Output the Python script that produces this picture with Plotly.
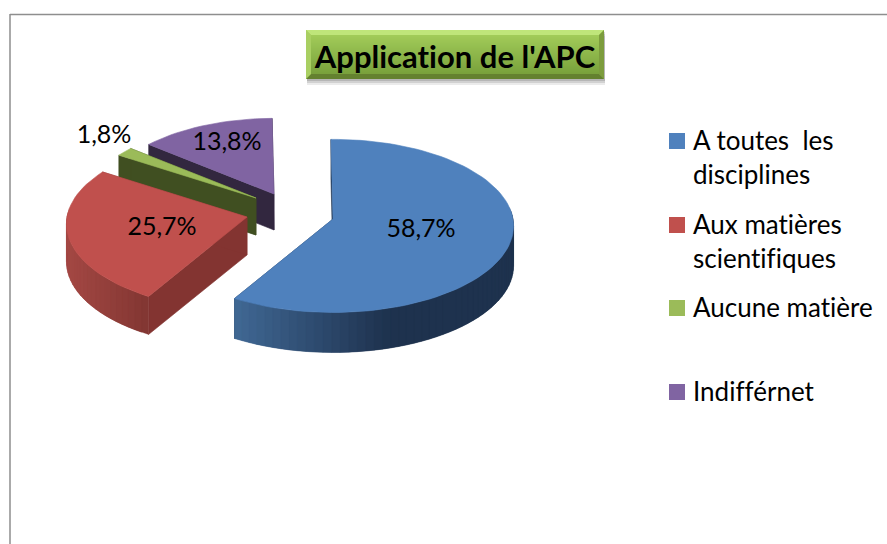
import math
import plotly.graph_objects as go

# ---- data ----
categories = ["A toutes  les<br>disciplines", "Aux matières<br>scientifiques", "Aucune matière", "Indifférnet"]
values = [58.7, 25.7, 1.8, 13.8]
value_labels = ["58,7%", "25,7%", "1,8%", "13,8%"]
title_text = "Application de l'APC"

# ---- style ----
W, H = 887, 544
FONT = "Lato, 'Open Sans', sans-serif"
top_colors = ["#4f81bd", "#c0504d", "#9bbb59", "#8064a2"]
cut_colors = ["#1f3450", "#833431", "#404f21", "#32273f"]
wall_left = [(64, 104, 148), (164, 72, 68), (64, 79, 33), (50, 39, 63)]
wall_right = [(30, 50, 78), (130, 54, 50), (64, 79, 33), (50, 39, 63)]
apex_x = [333, 247, 256, 274]
apex_y = [219, 217, 198, 194]
radius_scale = [1.0, 1.0, 0.95, 0.95]
depth = [40, 38, 37, 36]
label_x = [421, 162, 104, 227]
label_y = [231, 229, 137, 144]
legend_marker_x = [677, 677, 677, 677]
legend_marker_y = [141, 225, 308, 392]
RX, RY, PERSP, ROT = 180, 86, 0.08, -0.7


def project(theta, i):
    t = math.radians(theta)
    X, Y = math.sin(t), -math.cos(t)
    w = 1 - PERSP * Y
    s = radius_scale[i]
    return apex_x[i] + s * RX * X / w, apex_y[i] + s * RY * Y / w


def hexrgb(c):
    return "rgb(%d,%d,%d)" % c


def poly(xs, ys, color, lw=0.6):
    return go.Scatter(x=xs + xs[:1], y=ys + ys[:1], mode="lines", fill="toself",
                      fillcolor=color, line=dict(color=color, width=lw),
                      hoverinfo="skip", showlegend=False)


fig = go.Figure()

# slices: angles come from the values
start = [ROT]
for v in values:
    start.append(start[-1] + v * 3.6)

for i in [3, 2, 1, 0]:
    a0, a1 = start[i], start[i + 1]
    n = max(3, int((a1 - a0) / 2.5))
    angles = [a0 + (a1 - a0) * k / n for k in range(n + 1)]
    pts = [project(a, i) for a in angles]
    ax, ay, d = apex_x[i], apex_y[i], depth[i]
    # cut faces
    for px, py in (pts[0], pts[-1]):
        fig.add_trace(poly([ax, px, px, ax], [ay, py, py + d, ay + d], cut_colors[i]))
    # outer wall, shaded piece by piece (each piece overlaps the next, so no seams)
    xmin, xmax = min(p[0] for p in pts), max(p[0] for p in pts)
    for k in range(n):
        e = min(k + 2, n)
        (x0, y0), (x1, y1), (x2, y2) = pts[k], pts[k + 1], pts[e]
        if math.cos(math.radians(angles[k])) > 0.05 and math.cos(math.radians(angles[e])) > 0.05:
            continue
        f = min(1.0, ((x0 + x1) / 2 - xmin) / max(1, (xmax - xmin) * (0.55 if i == 0 else 1.0)))
        c = tuple(round(wall_left[i][j] + (wall_right[i][j] - wall_left[i][j]) * f) for j in range(3))
        fig.add_trace(poly([x0, x1, x2, x2, x1, x0], [y0, y1, y2, y2 + d, y1 + d, y0 + d], hexrgb(c), 0.3))
    # top face
    fig.add_trace(poly([ax] + [p[0] for p in pts], [ay] + [p[1] for p in pts], top_colors[i]))

# value labels
fig.add_trace(go.Scatter(x=label_x, y=label_y, mode="text", text=value_labels,
                         textposition="middle center", textfont=dict(family=FONT, size=25, color="#000000"),
                         hoverinfo="skip", showlegend=False))

# legend: swatches through the axes, labels aligned to their first line
fig.add_trace(go.Scatter(x=legend_marker_x, y=legend_marker_y, mode="markers",
                         marker=dict(symbol="square", size=16, color=top_colors, line=dict(width=0)),
                         hoverinfo="skip", showlegend=False))
annotations = [
    dict(x=mx + 14, y=my - 19, xref="x", yref="y", text=name, showarrow=False, xanchor="left", yanchor="top",
         align="left", font=dict(family=FONT, size=26, color="#000000"))
    for name, mx, my in zip(categories, legend_marker_x, legend_marker_y)
]

# chart frame and title box
shapes = [
    dict(type="line", x0=10, x1=10, y0=14, y1=H, line=dict(color="#8e8e8e", width=1.5)),
    dict(type="line", x0=10, x1=W, y0=14.5, y1=14.5, line=dict(color="#8e8e8e", width=1.5)),
]
BX0, BX1, BY0, BY1, BEV = 306, 604, 30, 79, 5
for s, op in [(6, 0.10), (4, 0.14), (2, 0.18)]:
    shapes.append(dict(type="rect", x0=BX0 + 1, x1=BX1 + 1, y0=BY0 + s, y1=BY1 + s, layer="below",
                       line=dict(width=0), fillcolor="rgba(60,60,60,%.2f)" % op))
rows = BY1 - BY0
for r in range(rows):
    f = r / (rows - 1)
    c = (round(166 - 50 * f), round(208 - 52 * f), round(92 - 36 * f))
    shapes.append(dict(type="rect", x0=BX0, x1=BX1, y0=BY0 + r, y1=BY0 + r + 1, layer="below",
                       line=dict(width=0), fillcolor=hexrgb(c)))
shapes += [
    dict(type="path", layer="below", line=dict(width=0), fillcolor="#bfe57a",
         path=f"M{BX0},{BY0} L{BX1},{BY0} L{BX1-BEV},{BY0+BEV} L{BX0+BEV},{BY0+BEV} Z"),
    dict(type="path", layer="below", line=dict(width=0), fillcolor="#64812f",
         path=f"M{BX0},{BY1} L{BX1},{BY1} L{BX1-BEV},{BY1-BEV} L{BX0+BEV},{BY1-BEV} Z"),
    dict(type="path", layer="below", line=dict(width=0), fillcolor="#a9cf62",
         path=f"M{BX0},{BY0} L{BX0+BEV},{BY0+BEV} L{BX0+BEV},{BY1-BEV} L{BX0},{BY1} Z"),
    dict(type="path", layer="below", line=dict(width=0), fillcolor="#7c9c3d",
         path=f"M{BX1},{BY0} L{BX1-BEV},{BY0+BEV} L{BX1-BEV},{BY1-BEV} L{BX1},{BY1} Z"),
]

fig.update_layout(
    width=W, height=H, autosize=False,
    margin=dict(l=0, r=0, t=0, b=0),
    paper_bgcolor="#ffffff", plot_bgcolor="#ffffff",
    xaxis=dict(range=[0, W], visible=False, fixedrange=True),
    yaxis=dict(range=[H, 0], visible=False, fixedrange=True),
    shapes=shapes,
    annotations=annotations,
    title=dict(text="<b>" + title_text + "</b>", x=455 / W, y=1 - 57 / H, xanchor="center", yanchor="middle",
               font=dict(family=FONT, size=31, color="#000000")),
    showlegend=False,
)
fig.write_html(
    "out.html",
    config={"displayModeBar": False},
    post_script=(
        "document.body.style.margin='0';"
        "document.documentElement.style.overflow='hidden';"
        "var s=document.createElement('style');"
        "s.textContent='svg text{font-variant-ligatures:none !important}';"
        "document.head.appendChild(s);"
    ),
)
